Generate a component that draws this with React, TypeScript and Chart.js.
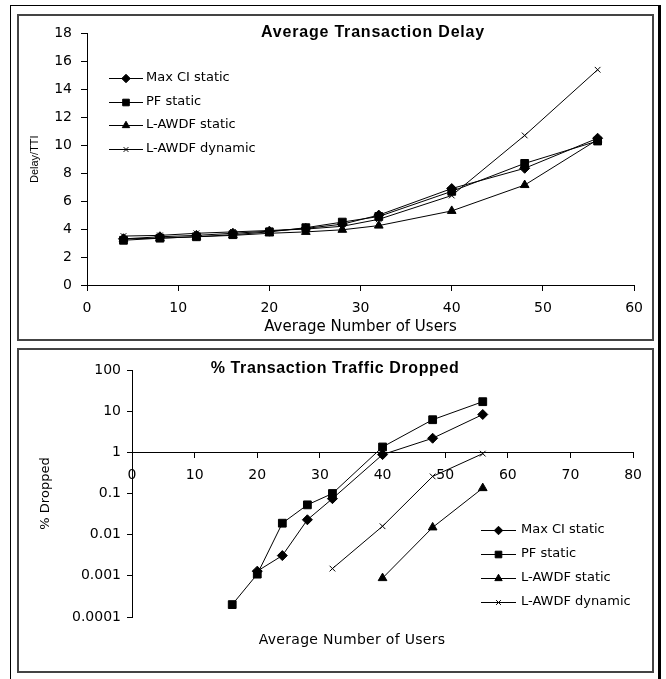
import React, { useEffect, useRef } from 'react';
import { Chart, registerables } from 'chart.js';
import { drawPoint } from 'chart.js/helpers';

Chart.register(...registerables);

// ---------- Data: Average Transaction Delay ----------
const delayUsers = [4, 8, 12, 16, 20, 24, 28, 32, 40, 48, 56];
const delayMaxCI = [3.3, 3.45, 3.55, 3.7, 3.85, 4.05, 4.35, 5.0, 6.9, 8.35, 10.5];
const delayPF = [3.2, 3.35, 3.45, 3.6, 3.8, 4.1, 4.5, 4.9, 6.7, 8.7, 10.3];
const delayLStatic = [3.3, 3.35, 3.45, 3.55, 3.7, 3.8, 3.95, 4.25, 5.3, 7.15, 10.4];
const delayLDynamic = [3.5, 3.55, 3.7, 3.8, 3.9, 4.0, 4.2, 4.7, 6.4, 10.7, 15.4];
const delayXTicks = [0, 10, 20, 30, 40, 50, 60];
const delayYTicks = [0, 2, 4, 6, 8, 10, 12, 14, 16, 18];

// ---------- Data: % Transaction Traffic Dropped ----------
const dropUsersMaxCI = [20, 24, 28, 32, 40, 48, 56];
const dropMaxCI = [0.0013, 0.0031, 0.023, 0.075, 0.88, 2.2, 8.3];
const dropUsersPF = [16, 20, 24, 28, 32, 40, 48, 56];
const dropPF = [0.0002, 0.0011, 0.019, 0.053, 0.1, 1.35, 6.2, 17];
const dropUsersLStatic = [40, 48, 56];
const dropLStatic = [0.00088, 0.015, 0.135];
const dropUsersLDynamic = [32, 40, 48, 56];
const dropLDynamic = [0.0015, 0.016, 0.26, 0.93];
const dropXTicks = [0, 10, 20, 30, 40, 50, 60, 70, 80];
const dropYTicks = [0.0001, 0.001, 0.01, 0.1, 1, 10, 100];

const seriesLabels = ['Max CI static', 'PF static', 'L-AWDF static', 'L-AWDF dynamic'];

const SANS = '"DejaVu Sans", sans-serif';
const ARIAL = '"Liberation Sans", Arial, sans-serif';

const markerStyles = [
  { pointStyle: 'rectRot', pointRadius: 5 },
  { pointStyle: 'rect', pointRadius: 5.5 },
  { pointStyle: 'triangle', pointRadius: 5 },
  { pointStyle: 'crossRot', pointRadius: 4 },
];

function makeDataset(label: string, xs: number[], ys: number[], idx: number) {
  return {
    label,
    data: xs.map((x, i) => ({ x, y: ys[i] })),
    borderColor: '#000',
    backgroundColor: '#000',
    borderWidth: 1,
    pointStyle: markerStyles[idx].pointStyle,
    pointRadius: markerStyles[idx].pointRadius,
    pointBorderWidth: 1,
    pointBackgroundColor: '#000',
    pointBorderColor: '#000',
    tension: 0,
    fill: false,
  };
}

const overlayTextPlugin = {
  id: 'overlayText',
  afterDraw(chart: any, _args: any, opts: any) {
    const ctx = chart.ctx;
    (opts.items || []).forEach((it: any) => {
      ctx.save();
      ctx.font = it.font;
      ctx.fillStyle = '#000';
      ctx.textAlign = 'center';
      ctx.textBaseline = 'middle';
      if ('letterSpacing' in ctx) (ctx as any).letterSpacing = it.letterSpacing || '0px';
      ctx.fillText(it.text, it.x, it.y);
      ctx.restore();
    });
  },
};

const lineLegendPlugin = {
  id: 'lineLegend',
  afterDraw(chart: any, _args: any, opts: any) {
    const ctx = chart.ctx;
    chart.data.datasets.forEach((ds: any, i: number) => {
      const y = Math.round(opts.y + i * opts.spacing);
      ctx.save();
      ctx.strokeStyle = '#000';
      ctx.fillStyle = '#000';
      ctx.lineWidth = 1;
      ctx.beginPath();
      ctx.moveTo(opts.x, y + 0.5);
      ctx.lineTo(opts.x + opts.lineLength, y + 0.5);
      ctx.stroke();
      drawPoint(
        ctx,
        { pointStyle: ds.pointStyle, radius: ds.pointRadius * 0.85, rotation: 0, borderWidth: 1 } as any,
        opts.x + opts.lineLength / 2,
        y + 0.5
      );
      ctx.font = opts.font;
      ctx.textAlign = 'left';
      ctx.textBaseline = 'middle';
      ctx.fillText(ds.label, opts.x + opts.lineLength + opts.textGap, y);
      ctx.restore();
    });
  },
};

const tickFont = { family: SANS, size: 14 };
const axisGrid = (len: number) => ({
  display: true,
  drawOnChartArea: false,
  drawTicks: true,
  tickLength: len,
  color: '#000',
  lineWidth: 1,
});
const axisBorder = { display: true, color: '#000', width: 1 };

function DelayChart() {
  const ref = useRef<HTMLCanvasElement | null>(null);
  useEffect(() => {
    if (!ref.current) return;
    const chart = new Chart(ref.current, {
      type: 'line',
      data: {
        datasets: [
          makeDataset(seriesLabels[0], delayUsers, delayMaxCI, 0),
          makeDataset(seriesLabels[1], delayUsers, delayPF, 1),
          makeDataset(seriesLabels[2], delayUsers, delayLStatic, 2),
          makeDataset(seriesLabels[3], delayUsers, delayLDynamic, 3),
        ] as any,
      },
      options: {
        animation: false,
        responsive: false,
        devicePixelRatio: 1,
        layout: { padding: { left: 0, top: 14, right: 11, bottom: 0 } },
        plugins: {
          legend: { display: false },
          tooltip: { enabled: false },
          title: { display: false },
          overlayText: {
            items: [
              { text: 'Average Transaction Delay', x: 354, y: 17, font: `bold 16px ${ARIAL}`, letterSpacing: '0.8px' },
            ],
          },
          lineLegend: { x: 90, y: 62, spacing: 23.5, lineLength: 34, textGap: 3, font: `13px ${SANS}` },
        } as any,
        scales: {
          x: {
            type: 'linear',
            min: 0,
            max: 60,
            afterBuildTicks: (s: any) => { s.ticks = delayXTicks.map((v) => ({ value: v })); },
            ticks: { font: tickFont, color: '#000', padding: 9, maxRotation: 0, callback: (v: any) => String(v) },
            grid: axisGrid(6),
            border: axisBorder,
            title: { display: true, text: 'Average Number of Users', font: { family: SANS, size: 15 }, color: '#000', padding: { top: 0, bottom: 3 } },
            afterFit: (s: any) => { s.height = 54; },
          },
          y: {
            type: 'linear',
            min: 0,
            max: 18,
            afterBuildTicks: (s: any) => { s.ticks = delayYTicks.map((v) => ({ value: v })); },
            ticks: { font: tickFont, color: '#000', padding: 9, callback: (v: any) => String(v) },
            grid: axisGrid(6),
            border: axisBorder,
            title: { display: true, text: 'Delay/TTI', font: { family: ARIAL, size: 11 }, color: '#000', padding: { top: 9, bottom: 0 } },
            afterFit: (s: any) => { s.width = 68; },
          },
        },
      } as any,
      plugins: [overlayTextPlugin, lineLegendPlugin] as any,
    });
    return () => chart.destroy();
  }, []);
  return <canvas ref={ref} width={633} height={323} style={{ display: 'block', width: 633, height: 323 }} />;
}

function DropChart() {
  const ref = useRef<HTMLCanvasElement | null>(null);
  useEffect(() => {
    if (!ref.current) return;
    const chart = new Chart(ref.current, {
      type: 'line',
      data: {
        datasets: [
          makeDataset(seriesLabels[0], dropUsersMaxCI, dropMaxCI, 0),
          makeDataset(seriesLabels[1], dropUsersPF, dropPF, 1),
          makeDataset(seriesLabels[2], dropUsersLStatic, dropLStatic, 2),
          makeDataset(seriesLabels[3], dropUsersLDynamic, dropLDynamic, 3),
        ] as any,
      },
      options: {
        animation: false,
        responsive: false,
        devicePixelRatio: 1,
        layout: { padding: { left: 0, top: 20, right: 8, bottom: 54 } },
        plugins: {
          legend: { display: false },
          tooltip: { enabled: false },
          title: { display: false },
          overlayText: {
            items: [
              { text: '% Transaction Traffic Dropped', x: 316, y: 19, font: `bold 16px ${ARIAL}`, letterSpacing: '0.6px' },
              { text: 'Average Number of Users', x: 333, y: 290, font: `14px ${SANS}`, letterSpacing: '0.3px' },
            ],
          },
          lineLegend: { x: 462, y: 180, spacing: 23.9, lineLength: 35, textGap: 5, font: `13px ${SANS}` },
        } as any,
        scales: {
          x: {
            type: 'linear',
            min: 0,
            max: 80,
            position: { y: 1 },
            afterBuildTicks: (s: any) => { s.ticks = dropXTicks.map((v) => ({ value: v })); },
            ticks: { font: tickFont, color: '#000', padding: 10, maxRotation: 0, callback: (v: any) => String(v) },
            grid: axisGrid(5),
            border: axisBorder,
          },
          y: {
            type: 'logarithmic',
            min: 0.0001,
            max: 100,
            position: 'left',
            afterBuildTicks: (s: any) => { s.ticks = dropYTicks.map((v) => ({ value: v })); },
            ticks: { font: tickFont, color: '#000', padding: 6, autoSkip: false, callback: (v: any) => String(v) },
            grid: axisGrid(5),
            border: axisBorder,
            title: { display: true, text: '% Dropped', font: { family: SANS, size: 13 }, color: '#000', padding: { top: 19, bottom: 0 } },
            afterFit: (s: any) => { s.width = 113; },
          },
        },
      } as any,
      plugins: [overlayTextPlugin, lineLegendPlugin] as any,
    });
    return () => chart.destroy();
  }, []);
  return <canvas ref={ref} width={633} height={321} style={{ display: 'block', width: 633, height: 321 }} />;
}

export default function App() {
  return (
    <div style={{ position: 'absolute', left: 0, top: 0, width: 666, height: 679, background: '#fff', overflow: 'hidden' }}>
      <div
        style={{
          position: 'absolute',
          left: 10,
          top: 5,
          width: 647,
          height: 700,
          borderLeft: '1px solid #000',
          borderTop: '1px solid #000',
          borderRight: '3px solid #000',
        }}
      />
      <div style={{ position: 'absolute', left: 17, top: 14, width: 633, height: 323, border: '2px solid #444', background: '#fff' }}>
        <DelayChart />
      </div>
      <div style={{ position: 'absolute', left: 17, top: 348, width: 633, height: 321, border: '2px solid #444', background: '#fff' }}>
        <DropChart />
      </div>
    </div>
  );
}
